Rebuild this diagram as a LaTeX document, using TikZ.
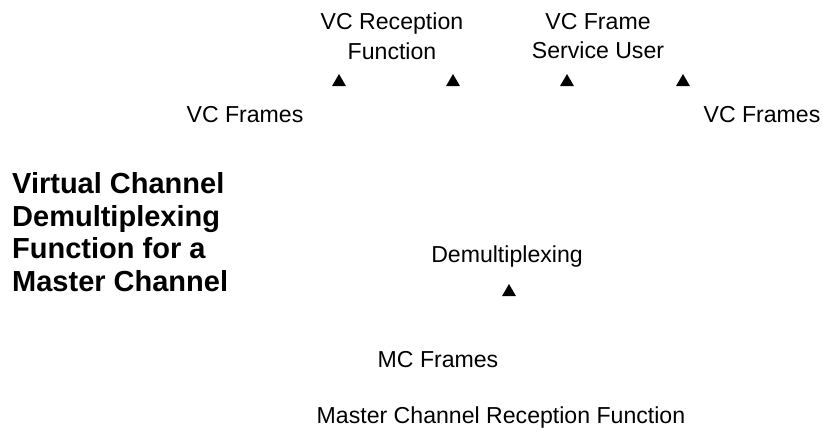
\documentclass[tikz,border=0pt]{standalone}
\usepackage{fontspec}
\setmainfont{Liberation Sans}
\usetikzlibrary{shapes.geometric}
\begin{document}
\begin{tikzpicture}[x=1pt,y=-1pt,
  lbl/.style={inner sep=0pt,align=center,font=\fontsize{23.1}{29.5}\selectfont},
  ttl/.style={inner sep=0pt,align=left,font=\fontsize{29}{32.7}\selectfont\bfseries},
  tri/.style={regular polygon,regular polygon sides=3,fill=black,draw=none,inner sep=0pt,minimum size=16pt}]
\useasboundingbox (0,0) rectangle (823,432);
\node[lbl] (vcr) at (392,36) {VC Reception\\Function};
\node[lbl] (vcf) at (598,36) {VC Frame\\Service User};
\node[tri] (t1) at (339,82) {};
\node[tri] (t2) at (453,82) {};
\node[tri] (t3) at (567,82) {};
\node[tri] (t4) at (683,82) {};
\node[lbl] (vcl) at (245,115) {VC Frames};
\node[lbl] (vcrr) at (762,115) {VC Frames};
\node[ttl,anchor=west] (title) at (12,232) {Virtual Channel\\Demultiplexing\\Function for a\\Master Channel};
\node[lbl] (demux) at (507,257) {Demultiplexing};
\node[tri] (t5) at (509,292) {};
\node[lbl] (mcf) at (438,360) {MC Frames};
\node[lbl] (mcrf) at (501,418) {Master Channel Reception Function};
\end{tikzpicture}
\end{document}
